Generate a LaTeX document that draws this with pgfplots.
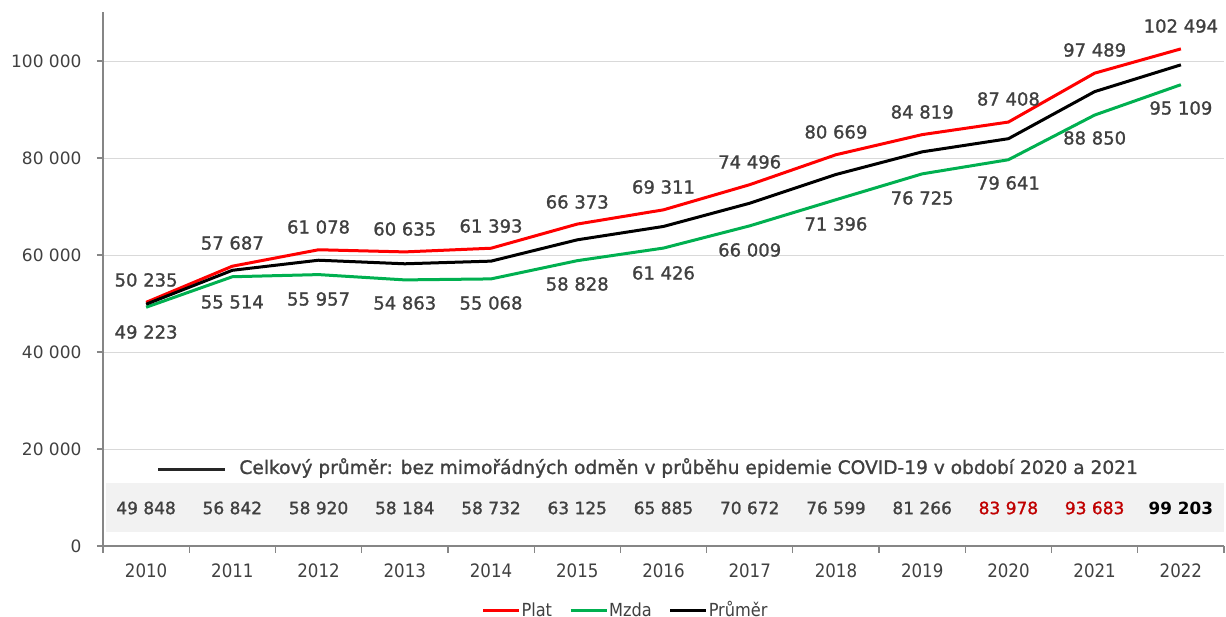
\documentclass[border=0pt]{standalone}
\usepackage{fontspec}
\setmainfont{DejaVu Sans}
\newfontfamily\cond{DejaVu Sans Condensed}
\newfontfamily\semi[FakeBold=1.2]{DejaVu Sans}
\usepackage{pgfplots}
\pgfplotsset{compat=1.18}
\usepackage{pgfplotstable}
\definecolor{platc}{HTML}{FF0000}
\definecolor{mzdac}{HTML}{00B050}
\definecolor{txt}{HTML}{404040}
\definecolor{axgray}{HTML}{868686}
\definecolor{gridc}{HTML}{D9D9D9}
\definecolor{bandc}{HTML}{F2F2F2}
\definecolor{dred}{HTML}{C00000}

\pgfplotstableread{
x plat mzda prum
0 50235 49223 49848
1 57687 55514 56842
2 61078 55957 58920
3 60635 54863 58184
4 61393 55068 58732
5 66373 58828 63125
6 69311 61426 65885
7 74496 66009 70672
8 80669 71396 76599
9 84819 76725 81266
10 87408 79641 83978
11 97489 88850 93683
12 102494 95109 99203
}\data

\begin{document}
\begin{tikzpicture}
\begin{axis}[
  scale only axis, width=1121pt, height=534pt,
  xmin=-0.5, xmax=12.5, ymin=0, ymax=110100,
  axis x line*=bottom, axis y line*=left,
  axis line style={axgray, line width=1.5pt},
  xtick={0,1,2,3,4,5,6,7,8,9,10,11,12},
  xticklabels={2010,2011,2012,2013,2014,2015,2016,2017,2018,2019,2020,2021,2022},
  minor xtick={-0.5,0.5,1.5,2.5,3.5,4.5,5.5,6.5,7.5,8.5,9.5,10.5,11.5,12.5},
  major x tick style={draw=none},
  minor x tick style={axgray, line width=1.2pt},
  tick align=outside,
  major tick length=6pt, minor tick length=7pt,
  ytick={0,20000,40000,60000,80000,100000},
  yticklabels={0,20 000,40 000,60 000,80 000,100 000},
  ytick style={axgray, line width=1.2pt},
  ymajorgrids, grid style={gridc, line width=0.8pt},
  xticklabel style={font=\cond\fontsize{18.5}{20}\selectfont, text=txt, yshift=-8pt},
  yticklabel style={font=\fontsize{17}{18}\selectfont, text=txt, xshift=-12pt},
  legend style={draw=none, fill=none, at={(0.4657,-0.1199)}, anchor=center,
    font=\cond\fontsize{18}{20}\selectfont, text=txt,
    nodes={inner xsep=1pt},
    /tikz/every even column/.append style={column sep=16pt}},
  legend columns=3,
  legend image code/.code={\draw[#1, line width=3pt] (0pt,0pt) -- (36pt,0pt);},
  every axis plot/.append style={line join=round},
]
\fill[bandc] (axis cs:-0.46,2900) rectangle (axis cs:12.5,13000);
\addplot[platc, line width=3pt] table[x=x,y=plat]{\data};
\addlegendentry{Plat}
\addplot[mzdac, line width=3pt] table[x=x,y=mzda]{\data};
\addlegendentry{Mzda}
\addplot[black, line width=3pt] table[x=x,y=prum]{\data};
\addlegendentry{Průměr}

\draw[black!85, line width=3pt] (axis cs:0.14,15700) -- (axis cs:0.92,15700);
\node[anchor=west, font=\semi\fontsize{18.6}{20}\selectfont, text=txt, inner sep=0pt] at (axis cs:1.08,16080) {Celkový průměr: bez mimořádných odměn v průběhu epidemie COVID-19 v období 2020 a 2021};

\begin{scope}[every node/.style={font=\semi\fontsize{18}{18}\selectfont, text=txt, inner sep=0pt}]
\node at (axis cs:0,54850) {50 235};
\node at (axis cs:1,62470) {57 687};
\node at (axis cs:2,65770) {61 078};
\node at (axis cs:3,65360) {60 635};
\node at (axis cs:4,65980) {61 393};
\node at (axis cs:5,70930) {66 373};
\node at (axis cs:6,74020) {69 311};
\node at (axis cs:7,79180) {74 496};
\node at (axis cs:8,85360) {80 669};
\node at (axis cs:9,89480) {84 819};
\node at (axis cs:10,92160) {87 408};
\node at (axis cs:11,102270) {97 489};
\node at (axis cs:12,107220) {102 494};
\node at (axis cs:0,44120) {49 223};
\node at (axis cs:1,50310) {55 514};
\node at (axis cs:2,50930) {55 957};
\node at (axis cs:3,50100) {54 863};
\node at (axis cs:4,50100) {55 068};
\node at (axis cs:5,54020) {58 828};
\node at (axis cs:6,56290) {61 426};
\node at (axis cs:7,61030) {66 009};
\node at (axis cs:8,66390) {71 396};
\node at (axis cs:9,71750) {76 725};
\node at (axis cs:10,74850) {79 641};
\node at (axis cs:11,84120) {88 850};
\node at (axis cs:12,90310) {95 109};
\end{scope}
\begin{scope}[every node/.style={font=\semi\fontsize{17}{17}\selectfont, text=txt, inner sep=0pt}]
\node at (axis cs:0,7840) {49 848};
\node at (axis cs:1,7840) {56 842};
\node at (axis cs:2,7840) {58 920};
\node at (axis cs:3,7840) {58 184};
\node at (axis cs:4,7840) {58 732};
\node at (axis cs:5,7840) {63 125};
\node at (axis cs:6,7840) {65 885};
\node at (axis cs:7,7840) {70 672};
\node at (axis cs:8,7840) {76 599};
\node at (axis cs:9,7840) {81 266};
\node[text=dred] at (axis cs:10,7840) {83 978};
\node[text=dred] at (axis cs:11,7840) {93 683};
\node[text=black, font=\bfseries\fontsize{16.8}{17}\selectfont] at (axis cs:12,7840) {99 203};
\end{scope}
\end{axis}
\pgfresetboundingbox
\path[use as bounding box] (-103pt,-71pt) rectangle (1123pt,546pt);
\end{tikzpicture}
\end{document}
